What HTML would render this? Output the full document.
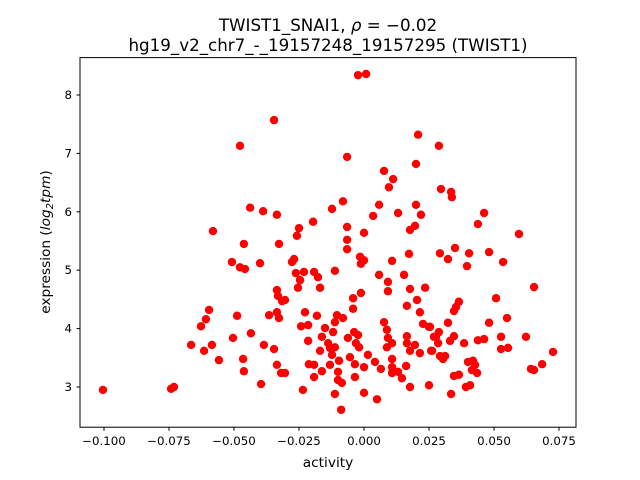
<!DOCTYPE html>
<html><head><meta charset="utf-8"><style>
body{margin:0;background:#fff;}
svg{display:block;font-family:"DejaVu Sans","Liberation Sans",sans-serif;}
</style></head><body>
<svg id="chart" width="640" height="480">
<rect width="640" height="480" fill="#fff"/>
<text x="328" y="31" text-anchor="middle" font-size="16.7">TWIST1_SNAI1, <tspan font-style="italic">ρ</tspan> = −0.02</text>
<text x="328" y="51" text-anchor="middle" font-size="16.7">hg19_v2_chr7_-_19157248_19157295 (TWIST1)</text>
<g id="ticks"></g>
<g id="points"></g>
<rect x="80" y="57.6" width="496" height="369.6" fill="none" stroke="#000" stroke-width="1"/>
<text x="328" y="467" text-anchor="middle" font-size="13.7">activity</text>
<text transform="translate(50,242) rotate(-90)" text-anchor="middle" font-size="13.7">expression (<tspan font-style="italic">log</tspan><tspan font-style="italic" font-size="10" dy="3">2</tspan><tspan font-style="italic" dy="-3">tpm</tspan>)</text>
</svg>
<script>
const xTicks=[-0.100,-0.075,-0.050,-0.025,0.000,0.025,0.050,0.075];
const xTickLabels=["−0.100","−0.075","−0.050","−0.025","0.000","0.025","0.050","0.075"];
const yTicks=[3,4,5,6,7,8];
const yTickLabels=["3","4","5","6","7","8"];
const activity=[-0.0346,-0.0477,-0.0438,-0.0388,-0.0335,-0.0581,-0.0462,-0.0327,-0.0508,-0.0477,-0.0458,-0.04,-0.0335,-0.0331,-0.0315,-0.0596,-0.0608,-0.0627,-0.0488,-0.0365,-0.0335,-0.0327,-0.0435,-0.0504,-0.0665,-0.0615,-0.0585,-0.0558,-0.0385,-0.0346,-0.0465,-0.0462,-0.0335,-0.0319,-0.0396,-0.1004,-0.0742,-0.0731,
-0.0023,0.0008,0.0208,-0.0065,0.02,0.0077,0.0112,0.0096,-0.0081,-0.0123,0.0058,0.02,0.0035,0.0131,0.0219,-0.025,-0.0258,-0.0196,-0.0065,0,0.0196,0.0177,-0.0065,-0.0065,-0.0015,0,-0.0012,0.0108,0.0173,-0.0269,-0.0277,-0.0262,-0.0231,-0.0192,-0.0177,-0.0246,-0.0254,-0.0169,-0.0112,0.0058,0.0092,0.0092,0.0154,0.0177,0.0235,-0.0042,-0.0012,-0.0042,0.0204,0.0165,0.0215,-0.0304,-0.0227,-0.0181,-0.0242,-0.0215,-0.0215,-0.0104,-0.0081,-0.0112,-0.015,-0.0162,-0.0119,-0.0138,-0.0131,-0.0112,-0.0123,-0.0169,-0.0038,-0.0062,-0.0023,-0.0031,-0.0019,0.0077,0.0088,0.0092,0.0108,0.0088,0.0165,0.0165,0.0196,0.0177,0.0215,0.0227,0.025,0.0269,0.0258,-0.0212,-0.0192,-0.0162,-0.0131,-0.0096,-0.0054,-0.0035,0.0015,0,0.0042,0.0065,0.0108,0.0108,0.0108,0.0131,0.0146,0.0162,-0.0192,-0.01,-0.01,-0.0085,-0.0035,0.0177,0.025,-0.0235,-0.0112,0,0.005,-0.0088,-0.0304,
0.0288,0.0296,0.0335,0.0338,0.0462,0.0438,0.0596,0.0292,0.0323,0.035,0.0404,0.0396,0.0481,0.0535,0.0654,0.0508,0.0365,0.0354,0.0346,0.055,0.0481,0.0323,0.0254,0.0288,0.0277,0.0285,0.0346,0.0331,0.0385,0.0438,0.0462,0.0527,0.0623,0.0527,0.0554,0.0262,0.0292,0.0312,0.0304,0.04,0.0419,0.0427,0.0415,0.0435,0.0727,0.0642,0.0654,0.0685,0.0346,0.0365,0.0392,0.0408,0.0335];
const expression=[7.57,7.13,6.07,6.01,5.95,5.67,5.45,5.45,5.14,5.05,5.02,5.12,4.66,4.56,4.47,4.32,4.16,4.04,4.22,4.23,4.28,4.18,3.92,3.84,3.72,3.62,3.72,3.46,3.72,3.65,3.48,3.27,3.38,3.24,3.05,2.95,2.97,3.00,
8.34,8.36,7.32,6.94,6.82,6.70,6.56,6.42,6.18,6.05,6.12,6.12,5.93,5.98,5.95,5.72,5.59,5.83,5.74,5.64,5.76,5.69,5.52,5.36,5.23,5.17,5.11,5.16,5.28,5.19,5.14,4.95,4.97,4.97,4.88,4.83,4.70,4.70,4.99,4.92,4.80,4.64,4.92,4.68,4.70,4.52,4.61,4.34,4.49,4.39,4.28,4.49,4.28,4.22,4.04,4.06,3.79,4.23,4.18,4.11,4.01,3.86,3.94,3.75,3.67,3.68,3.55,3.62,3.94,3.84,3.89,3.75,3.68,4.11,3.98,3.84,3.75,3.68,3.87,3.75,3.72,3.62,3.58,4.08,4.03,3.86,3.62,3.39,3.38,3.27,3.38,3.45,3.51,3.39,3.55,3.34,3.43,3.31,3.48,3.34,3.24,3.26,3.15,3.36,3.17,3.26,3.12,3.07,3.17,3.00,3.03,2.95,2.88,2.90,2.79,2.61,3.24,
7.13,6.39,6.34,6.25,5.98,5.79,5.62,5.29,5.19,5.38,5.29,5.07,5.31,5.14,4.71,4.52,4.46,4.37,4.30,4.18,4.10,4.10,4.03,3.94,3.86,3.75,3.87,3.79,3.75,3.80,3.82,3.86,3.86,3.65,3.67,3.62,3.53,3.53,3.48,3.43,3.45,3.38,3.29,3.24,3.60,3.31,3.29,3.39,3.19,3.21,3.00,3.03,2.88];

const NS="http://www.w3.org/2000/svg";
function xs(v){return 364+v*2600;}
function ys(v){return 387-(v-3)*58.4;}
const tg=document.getElementById('ticks');
xTicks.forEach((t,i)=>{
  const x=xs(t);
  const l=document.createElementNS(NS,'line');
  l.setAttribute('x1',x);l.setAttribute('x2',x);l.setAttribute('y1',427.2);l.setAttribute('y2',430.7);
  l.setAttribute('stroke','#000');
  
  
  tg.appendChild(l);
  const tx=document.createElementNS(NS,'text');
  tx.setAttribute('x',x);tx.setAttribute('y',445);tx.setAttribute('text-anchor','middle');tx.setAttribute('font-size','11.8');
  tx.textContent=xTickLabels[i];
  
  
  tg.appendChild(tx);
});
yTicks.forEach((t,i)=>{
  const y=ys(t);
  const l=document.createElementNS(NS,'line');
  l.setAttribute('x1',76.5);l.setAttribute('x2',80);l.setAttribute('y1',y);l.setAttribute('y2',y);
  l.setAttribute('stroke','#000');
  
  
  tg.appendChild(l);
  const tx=document.createElementNS(NS,'text');
  tx.setAttribute('x',72);tx.setAttribute('y',y+4);tx.setAttribute('text-anchor','end');tx.setAttribute('font-size','11.8');
  tx.textContent=yTickLabels[i];
  
  
  tg.appendChild(tx);
});
const pg=document.getElementById('points');
activity.forEach((a,i)=>{
  const c=document.createElementNS(NS,'circle');
  c.setAttribute('cx',xs(a));c.setAttribute('cy',ys(expression[i]));c.setAttribute('r',4.2);c.setAttribute('fill','#ff0000');
  
  
  pg.appendChild(c);
});
</script>
</body></html>
